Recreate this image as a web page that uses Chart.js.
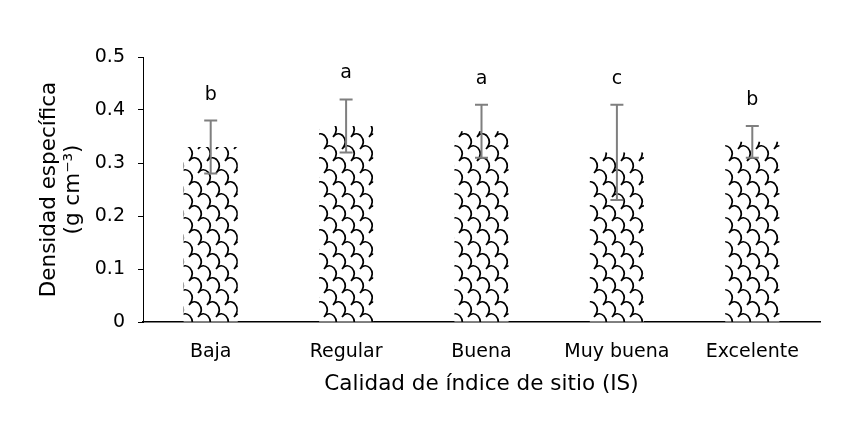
<!DOCTYPE html>
<html>
<head>
<meta charset="utf-8">
<script src="https://cdn.jsdelivr.net/npm/chart.js@4"></script>
<style>
  html, body { margin: 0; padding: 0; background: #fff; }
  #wrap { width: 850px; height: 427px; }
</style>
</head>
<body>
<div id="wrap"><canvas id="chart" width="850" height="427"></canvas></div>
<script>
const categories = ['Baja', 'Regular', 'Buena', 'Muy buena', 'Excelente'];
const density = [0.33, 0.37, 0.36, 0.32, 0.34];
const errLow = [0.28, 0.32, 0.31, 0.23, 0.31];
const errHigh = [0.38, 0.42, 0.41, 0.41, 0.37];
const letters = ['b', 'a', 'a', 'c', 'b'];
const yTicks = [0, 0.1, 0.2, 0.3, 0.4, 0.5];

// black scale-like pattern, close to the original bar fill
function makePattern() {
    const t = document.createElement('canvas');
    t.width = 18; t.height = 24;
    const c = t.getContext('2d');
    c.fillStyle = '#fff';
    c.fillRect(0, 0, 18, 24);
    c.strokeStyle = '#000';
    c.lineWidth = 1.7;
    function scale(ox, oy) {
        c.moveTo(ox, oy + 5);
        c.quadraticCurveTo(ox + 5, oy - 1, ox + 10, oy + 4);
        c.quadraticCurveTo(ox + 15, oy + 10, ox + 9, oy + 17);
    }
    c.beginPath();
    [-18, 0, 18].forEach(dx => {
        [-24, 0, 24].forEach(dy => {
            scale(dx, dy);
            scale(dx + 9, dy + 12);
        });
    });
    c.stroke();
    return document.getElementById('chart').getContext('2d').createPattern(t, 'repeat');
}

const errorBars = {
    id: 'errorBars',
    afterDatasetsDraw(chart) {
        const ctx = chart.ctx;
        const y = chart.scales.y;
        const meta = chart.getDatasetMeta(0);
        ctx.save();
        ctx.strokeStyle = '#7f7f7f';
        ctx.lineWidth = 2;
        meta.data.forEach((bar, i) => {
            const yt = y.getPixelForValue(errHigh[i]);
            const yb = y.getPixelForValue(errLow[i]);
            ctx.beginPath();
            ctx.moveTo(bar.x, yt); ctx.lineTo(bar.x, yb);
            ctx.moveTo(bar.x - 6.5, yt); ctx.lineTo(bar.x + 6.5, yt);
            ctx.moveTo(bar.x - 6.5, yb); ctx.lineTo(bar.x + 6.5, yb);
            ctx.stroke();
            ctx.fillStyle = '#000';
            ctx.font = '19px "DejaVu Sans"';
            ctx.textAlign = 'center';
            ctx.textBaseline = 'middle';
            ctx.fillText(letters[i], bar.x, yt - 26);
        });
        ctx.restore();
    }
};

new Chart(document.getElementById('chart'), {
    type: 'bar',
    data: {
        labels: categories,
        datasets: [{
            data: density,
            backgroundColor: makePattern(),
            borderWidth: 0,
            barPercentage: 0.4,
            categoryPercentage: 1
        }]
    },
    options: {
        responsive: false,
        animation: false,
        layout: { padding: { top: 57, right: 30, left: 38, bottom: 31 } },
        plugins: {
            legend: { display: false },
            tooltip: { enabled: false }
        },
        scales: {
            x: {
                grid: { display: false, drawTicks: false },
                border: { color: '#000', width: 1.5 },
                ticks: { color: '#000', padding: 19, font: { family: 'DejaVu Sans', size: 19 } },
                title: {
                    display: true,
                    text: 'Calidad de índice de sitio (IS)',
                    color: '#000',
                    font: { family: 'DejaVu Sans', size: 21.5, lineHeight: 1.1 },
                    padding: 0
                },
                afterFit(scale) { scale.height = 74; }
            },
            y: {
                min: 0,
                max: 0.5,
                afterBuildTicks(scale) { scale.ticks = yTicks.map(v => ({ value: v })); },
                grid: { drawOnChartArea: false, drawTicks: true, tickLength: 5, color: '#000' },
                border: { color: '#000', width: 1 },
                ticks: {
                    color: '#000',
                    padding: 13,
                    font: { family: 'DejaVu Sans', size: 19 },
                    callback: v => String(v)
                },
                title: {
                    display: true,
                    text: ['Densidad específica', '(g cm⁻³)'],
                    color: '#000',
                    font: { family: 'DejaVu Sans', size: 21.5, lineHeight: 1.1 },
                    padding: 0
                },
                afterFit(scale) { scale.width = 105; }
            }
        }
    },
    plugins: [errorBars]
});
</script>
</body>
</html>
